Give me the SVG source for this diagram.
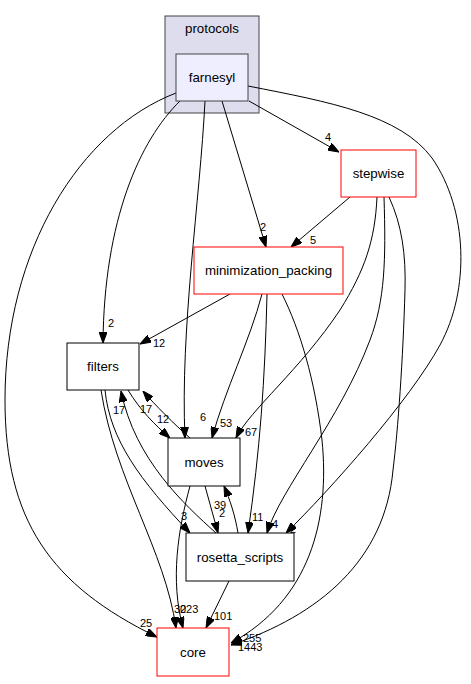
<svg xmlns="http://www.w3.org/2000/svg" width="471" height="684" viewBox="0 0 471 684">
<style>
.cl{fill:#ddddee;stroke:#444;stroke-width:1}
.nd{fill:#fff;stroke:#000;stroke-width:1}
.ndr{fill:#fff;stroke:#ff0000;stroke-width:1}
.cur{fill:#eeeeff;stroke:#444;stroke-width:1}
.lb{font-family:"Liberation Sans",Arial,Helvetica,sans-serif;font-size:13.3px;text-anchor:middle;fill:#000}
.el{font-family:"Liberation Sans",Arial,Helvetica,sans-serif;font-size:11px;fill:#000}
.e{fill:none;stroke:#000;stroke-width:1;marker-end:url(#ah)}
</style>
<defs>
<marker id="ah" viewBox="0 0 11 8" refX="11" refY="4" markerWidth="11" markerHeight="8" markerUnits="userSpaceOnUse" orient="auto">
<path d="M0,0 L11,4 L0,8 z" fill="#000" stroke="#000" stroke-width="1"/>
</marker>
</defs>
<rect width="471" height="684" fill="#fff"/>
<g id="cluster_protocols">
<rect class="cl" x="165" y="16" width="94" height="97"/>
<text class="lb" x="212" y="33">protocols</text>
</g>
<g id="connectors">
<path class="e" d="M249,101 L339,152"/>
<path class="e" d="M222,101 L266,247"/>
<path class="e" d="M180,101 C140,140 104,220 103,343"/>
<path class="e" d="M205,101 C200,200 180,330 185,438"/>
<path class="e" d="M176,93 C80,130 5,250 5,400 C5,520 50,585 157,637"/>
<path class="e" d="M248,86 C330,102 400,115 432,158 C468,210 470,290 440,345 C410,400 330,490 286,533"/>
<path class="e" d="M350,197 L291,247"/>
<path class="e" d="M377,197 C375,240 365,270 340,310 C300,370 250,410 236,438"/>
<path class="e" d="M384,197 C386,260 385,300 370,340 C340,420 280,490 267,533"/>
<path class="e" d="M389,197 C402,225 406,255 405,290 C403,360 398,430 393,470 C385,560 320,615 231,645"/>
<path class="e" d="M282,294 C300,330 315,380 322,440 C330,520 310,600 231,643"/>
<path class="e" d="M230,294 L140,344"/>
<path class="e" d="M262,294 C250,340 225,390 212,438"/>
<path class="e" d="M267,294 C265,380 260,450 248,533"/>
<path class="e" d="M128,390 C140,410 155,425 170,438"/>
<path class="e" d="M190,438 C175,425 155,405 143,391"/>
<path class="e" d="M216,533 C185,505 135,460 121,391"/>
<path class="e" d="M105,390 C110,440 140,480 190,533"/>
<path class="e" d="M101,390 C115,480 165,550 176,628"/>
<path class="e" d="M190,486 C178,530 170,580 183,628"/>
<path class="e" d="M205,486 L218,533"/>
<path class="e" d="M238,533 C235,515 230,500 224,486"/>
<path class="e" d="M229,581 L206,628"/>
<text class="el" x="325" y="141">4</text>
<text class="el" x="260" y="231">2</text>
<text class="el" x="108" y="327">2</text>
<text class="el" x="200" y="421">6</text>
<text class="el" x="140" y="627">25</text>
<text class="el" x="290" y="533">2</text>
<text class="el" x="310" y="244">5</text>
<text class="el" x="245" y="436">67</text>
<text class="el" x="272" y="528">4</text>
<text class="el" x="243" y="642">255</text>
<text class="el" x="238" y="651">1443</text>
<text class="el" x="153" y="347">12</text>
<text class="el" x="220" y="427">53</text>
<text class="el" x="252" y="521">11</text>
<text class="el" x="157" y="423">12</text>
<text class="el" x="140" y="413">17</text>
<text class="el" x="113" y="414">17</text>
<text class="el" x="181" y="520">3</text>
<text class="el" x="174" y="613">30</text>
<text class="el" x="180" y="613">223</text>
<text class="el" x="219" y="517">2</text>
<text class="el" x="214" y="509">39</text>
<text class="el" x="214" y="620">101</text>
</g>
<g id="node_farnesyl">
<rect class="cur" x="176" y="54" width="72" height="47"/>
<text class="lb" x="212" y="82">farnesyl</text>
</g>
<g id="node_stepwise">
<rect class="ndr" x="341" y="150" width="75" height="47"/>
<text class="lb" x="378.5" y="178">stepwise</text>
</g>
<g id="node_minimization_packing">
<rect class="ndr" x="194" y="247" width="149" height="47"/>
<text class="lb" x="268.5" y="275">minimization_packing</text>
</g>
<g id="node_filters">
<rect class="nd" x="67" y="343" width="72" height="47"/>
<text class="lb" x="103" y="371">filters</text>
</g>
<g id="node_moves">
<rect class="nd" x="168" y="438" width="72" height="48"/>
<text class="lb" x="204" y="466.5">moves</text>
</g>
<g id="node_rosetta_scripts">
<rect class="nd" x="186" y="533" width="108" height="48"/>
<text class="lb" x="240" y="561.5">rosetta_scripts</text>
</g>
<g id="node_core">
<rect class="ndr" x="157" y="628" width="72" height="48"/>
<text class="lb" x="193" y="656.5">core</text>
</g>
</svg>
